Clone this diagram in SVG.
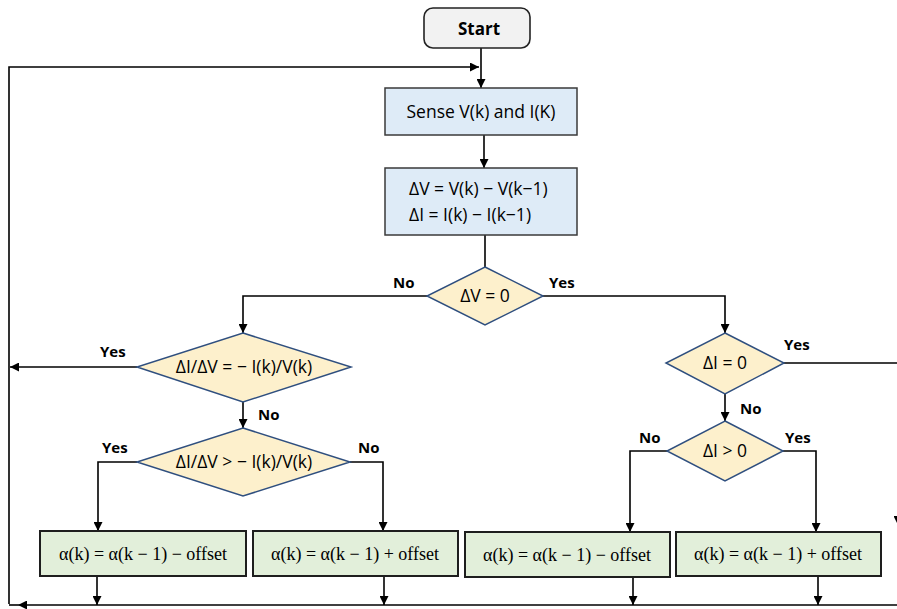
<svg xmlns="http://www.w3.org/2000/svg" width="897" height="609" viewBox="0 0 897 609">
  <style>
    .lbl { font-family: "Open Sans", "Liberation Sans", sans-serif; font-size: 17.5px; fill: #000; }
    .yn { font-family: "Open Sans", "Liberation Sans", sans-serif; font-size: 15px; font-weight: bold; fill: #000; }
    .math { font-family: "Liberation Serif", "DejaVu Serif", serif; font-size: 18px; fill: #000; }
    .proc { fill: #deebf7; stroke: #3a3a3a; stroke-width: 1.5; }
    .upd { fill: #e2efda; stroke: #1e1e1e; stroke-width: 2; }
    .dec { fill: #fdf0cc; stroke: #2f4f7f; stroke-width: 1.5; }
    .wire { fill: none; stroke: #000; stroke-width: 1.6; }
  </style>
  <defs>
    <marker id="arrowL" viewBox="0 0 10 10" refX="10" refY="5" markerWidth="9" markerHeight="9" markerUnits="userSpaceOnUse" orient="auto">
      <path d="M0,0 L10,5 L0,10 z" fill="#000"/>
    </marker>
  </defs>
  <rect width="897" height="609" fill="#fff"/>

  <!-- connectors -->
  <g id="connectors">
    <path class="wire" d="M481,48 V88" marker-end="url(#arrowL)"/>
    <path class="wire" d="M9,604 V67 H479" marker-end="url(#arrowL)"/>
    <path class="wire" d="M484,135 V168" marker-end="url(#arrowL)"/>
    <path class="wire" d="M485,235 V267"/>
    <path class="wire" d="M427,296 H243 V333" marker-end="url(#arrowL)"/>
    <path class="wire" d="M543,296 H725 V333" marker-end="url(#arrowL)"/>
    <path class="wire" d="M137,367 H10" marker-end="url(#arrowL)"/>
    <path class="wire" d="M243,402 V428" marker-end="url(#arrowL)"/>
    <path class="wire" d="M137,462 H98 V531" marker-end="url(#arrowL)"/>
    <path class="wire" d="M350,462 H383 V531" marker-end="url(#arrowL)"/>
    <path class="wire" d="M784,363 H898 V525" marker-end="url(#arrowL)"/>
    <path class="wire" d="M725,394 V421" marker-end="url(#arrowL)"/>
    <path class="wire" d="M667,451 H630 V532" marker-end="url(#arrowL)"/>
    <path class="wire" d="M783,451 H816 V532" marker-end="url(#arrowL)"/>
    <path class="wire" d="M97,576 V605" marker-end="url(#arrowL)"/>
    <path class="wire" d="M384,576 V605" marker-end="url(#arrowL)"/>
    <path class="wire" d="M633,577 V605" marker-end="url(#arrowL)"/>
    <path class="wire" d="M818,576 V605" marker-end="url(#arrowL)"/>
    <path class="wire" d="M897,605 H18" marker-end="url(#arrowL)"/>
    <path class="wire" d="M18,605 H9"/>
  </g>

  <!-- edge labels -->
  <g id="labels">
    <text class="yn" x="393" y="288">No</text>
    <text class="yn" x="549" y="288">Yes</text>
    <text class="yn" x="100" y="357">Yes</text>
    <text class="yn" x="258" y="420">No</text>
    <text class="yn" x="102" y="453">Yes</text>
    <text class="yn" x="358" y="453">No</text>
    <text class="yn" x="784" y="350">Yes</text>
    <text class="yn" x="740" y="414">No</text>
    <text class="yn" x="639" y="443">No</text>
    <text class="yn" x="785" y="443">Yes</text>
  </g>

  <g id="start">
    <rect x="424" y="8" width="106" height="40" rx="9" fill="#f2f2f2" stroke="#222" stroke-width="1.6"/>
    <text class="yn" x="479" y="35" text-anchor="middle" style="font-size:17px">Start</text>
  </g>

  <g id="sense">
    <rect class="proc" x="385" y="88" width="192" height="47"/>
    <text class="lbl" x="481" y="118" text-anchor="middle">Sense V(k) and I(K)</text>
  </g>

  <g id="delta">
    <rect class="proc" x="385" y="168" width="192" height="67"/>
    <text class="lbl" x="409" y="195">ΔV = V(k) − V(k−1)</text>
    <text class="lbl" x="409" y="221">ΔI = I(k) − I(k−1)</text>
  </g>

  <g id="dv-zero">
    <polygon class="dec" points="485,267 543,296 485,325 427,296"/>
    <text class="lbl" x="485" y="302" text-anchor="middle">ΔV = 0</text>
  </g>

  <g id="slope-eq">
    <polygon class="dec" points="243,333 351,367 243,402 137,367"/>
    <text class="lbl" x="244" y="373" text-anchor="middle">ΔI/ΔV = − I(k)/V(k)</text>
  </g>

  <g id="slope-gt">
    <polygon class="dec" points="243,428 350,462 243,496 137,462"/>
    <text class="lbl" x="244" y="468" text-anchor="middle">ΔI/ΔV &gt; − I(k)/V(k)</text>
  </g>

  <g id="di-zero">
    <polygon class="dec" points="725,333 784,363 725,394 666,363"/>
    <text class="lbl" x="725" y="369" text-anchor="middle">ΔI = 0</text>
  </g>

  <g id="di-pos">
    <polygon class="dec" points="725,421 783,451 725,481 667,451"/>
    <text class="lbl" x="725" y="457" text-anchor="middle">ΔI &gt; 0</text>
  </g>

  <g id="dec-left">
    <rect class="upd" x="40" y="531" width="206" height="45"/>
    <text class="math" x="143" y="560" text-anchor="middle">α(k) = α(k − 1) − offset</text>
  </g>

  <g id="inc-left">
    <rect class="upd" x="253" y="531" width="205" height="45"/>
    <text class="math" x="355" y="560" text-anchor="middle">α(k) = α(k − 1) + offset</text>
  </g>

  <g id="dec-right">
    <rect class="upd" x="465" y="532" width="205" height="45"/>
    <text class="math" x="567" y="561" text-anchor="middle">α(k) = α(k − 1) − offset</text>
  </g>

  <g id="inc-right">
    <rect class="upd" x="676" y="532" width="205" height="44"/>
    <text class="math" x="778" y="560" text-anchor="middle">α(k) = α(k − 1) + offset</text>
  </g>
</svg>
